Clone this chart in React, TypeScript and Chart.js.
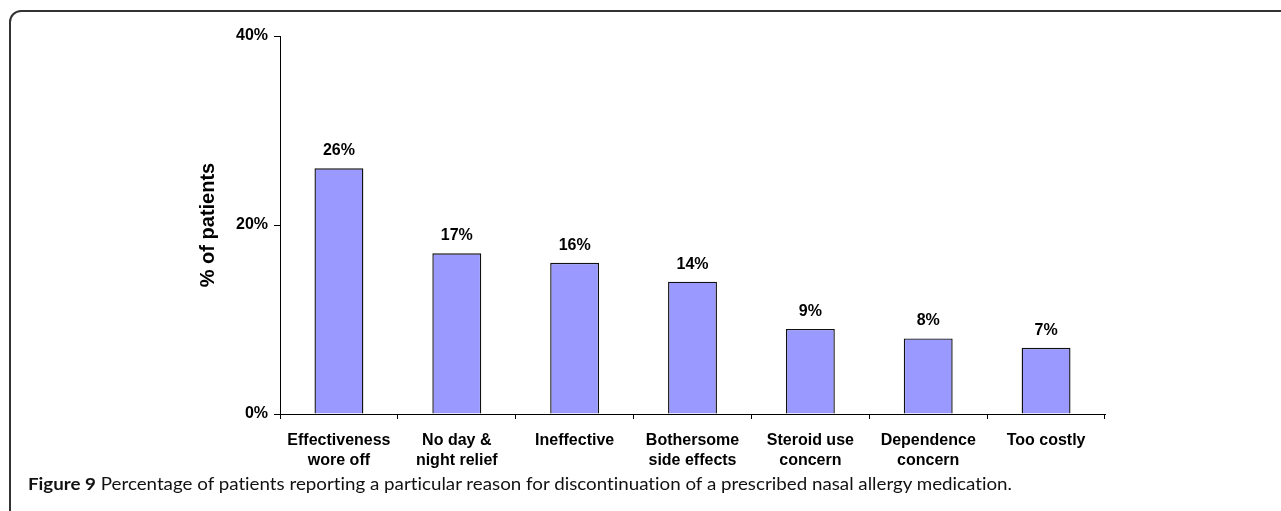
import React, { useEffect, useLayoutEffect, useRef } from "react";
import { Chart, registerables } from "chart.js";

Chart.register(...registerables);

const categories: string[][] = [
  ["Effectiveness", "wore off"],
  ["No day &", "night relief"],
  ["Ineffective"],
  ["Bothersome", "side effects"],
  ["Steroid use", "concern"],
  ["Dependence", "concern"],
  ["Too costly"],
];
const percentValues: number[] = [26, 17, 16, 14, 9, 8, 7];
const yTickValues: number[] = [0, 20, 40];
const yAxisTitle = "% of patients";
const captionBold = "Figure 9";
const captionText =
  " Percentage of patients reporting a particular reason for discontinuation of a prescribed nasal allergy medication.";

const FONT = "'Liberation Sans', Arial, Helvetica, sans-serif";

const valueLabelPlugin = {
  id: "valueLabels",
  afterDatasetsDraw(chart: any) {
    const ctx = chart.ctx;
    const meta = chart.getDatasetMeta(0);
    ctx.save();
    ctx.font = `bold 16px ${FONT}`;
    ctx.fillStyle = "#000";
    ctx.textAlign = "center";
    ctx.textBaseline = "alphabetic";
    meta.data.forEach((bar: any, i: number) => {
      ctx.fillText(`${percentValues[i]}%`, bar.x, bar.y - 13);
    });
    ctx.restore();
  },
};

export default function App() {
  const canvasRef = useRef<HTMLCanvasElement | null>(null);
  const capRef = useRef<HTMLDivElement | null>(null);

  useEffect(() => {
    const canvas = canvasRef.current;
    if (!canvas) return;
    const chart = new Chart(canvas, {
      type: "bar",
      data: {
        labels: categories,
        datasets: [
          {
            data: percentValues,
            backgroundColor: "#9999FF",
            borderColor: "#111",
            borderWidth: 1.4,
            categoryPercentage: 1,
            barPercentage: 0.415,
          },
        ],
      },
      options: {
        responsive: false,
        animation: false,
        layout: { padding: { left: 0, right: 176, top: 36, bottom: 0 } },
        plugins: {
          legend: { display: false },
          tooltip: { enabled: false },
        },
        scales: {
          x: {
            afterFit: (s: any) => {
              s.height = 61;
            },
            grid: {
              display: true,
              drawOnChartArea: false,
              drawTicks: true,
              tickLength: 5,
              color: "#000",
              offset: true,
            },
            border: { display: true, color: "#000", width: 1 },
            ticks: {
              color: "#000",
              padding: 12,
              maxRotation: 0,
              autoSkip: false,
              font: { family: FONT, size: 16, weight: "bold", lineHeight: 1.25 },
            },
          },
          y: {
            min: 0,
            max: 40,
            afterFit: (s: any) => {
              s.width = 280;
            },
            afterBuildTicks: (s: any) => {
              s.ticks = yTickValues.map((v) => ({ value: v }));
            },
            grid: {
              display: true,
              drawOnChartArea: false,
              drawTicks: true,
              tickLength: 6,
              color: "#000",
            },
            border: { display: true, color: "#000", width: 1 },
            ticks: {
              color: "#000",
              padding: 6,
              callback: (v: any) => `${v}%`,
              font: { family: FONT, size: 16, weight: "bold" },
            },
            title: {
              display: true,
              text: yAxisTitle,
              color: "#000",
              padding: { top: 196, bottom: 0 },
              font: { family: FONT, size: 20, weight: "bold", lineHeight: 1.2 },
            },
          },
        },
      },
      plugins: [valueLabelPlugin],
    });
    return () => chart.destroy();
  }, []);

  useLayoutEffect(() => {
    const el = capRef.current;
    if (!el) return;
    const w = el.getBoundingClientRect().width;
    if (w > 0) el.style.transform = `scaleX(${984 / w})`;
  }, []);

  return (
    <div>
      <div
        style={{
          position: "fixed",
          left: 9,
          top: 10,
          width: 1400,
          height: 700,
          border: "2px solid #333",
          borderRadius: 12,
          boxSizing: "border-box",
        }}
      />
      <canvas
        ref={canvasRef}
        width={1281}
        height={475}
        style={{ position: "fixed", left: 0, top: 0, width: 1281, height: 475 }}
      />
      <div
        ref={capRef}
        style={{
          position: "fixed",
          left: 28,
          top: 474,
          fontFamily: "Lato, 'Open Sans', sans-serif",
          fontSize: 17,
          lineHeight: "20px",
          color: "#111",
          whiteSpace: "nowrap",
          fontVariantLigatures: "none",
          fontFeatureSettings: '"liga" 0, "clig" 0',
          transformOrigin: "0 0",
        }}
      >
        <b>{captionBold}</b>
        {captionText}
      </div>
    </div>
  );
}
